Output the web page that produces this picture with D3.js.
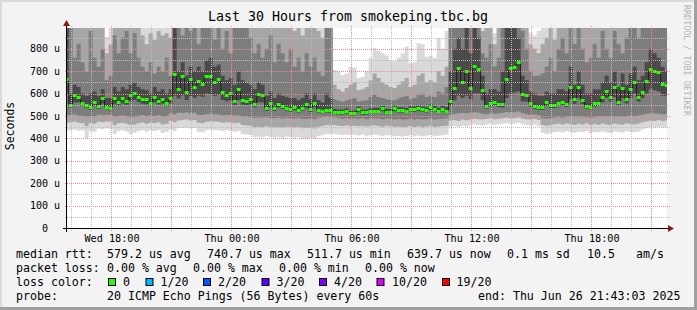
<!DOCTYPE html>
<html>
<head>
<meta charset="utf-8">
<script src="https://cdn.jsdelivr.net/npm/d3@7"></script>
<style>
    body { margin: 0; background: #f3f3f3; }
    svg { display: block; }
    text { font-family: "DejaVu Sans Mono", monospace; fill: #000; }
</style>
</head>
<body>
<svg id="chart" width="697" height="310"></svg>
<script>

// ========== DATA (microseconds, one value per 12 minute column) ==========

const median = [
    665, 549, 594, 586, 559, 549, 539, 564, 545, 579,
    542, 534, 579, 564, 579, 568, 594, 601, 586, 574,
    574, 559, 586, 568, 577, 559, 579, 688, 619, 679,
    609, 664, 631, 655, 643, 680, 680, 652, 667, 609,
    595, 605, 568, 619, 571, 568, 574, 554, 597, 592,
    534, 559, 534, 554, 545, 537, 530, 539, 527, 537,
    552, 530, 559, 527, 522, 527, 527, 519, 516, 516,
    522, 512, 512, 530, 516, 516, 524, 524, 524, 534,
    519, 519, 534, 527, 527, 524, 533, 530, 534, 530,
    527, 539, 533, 524, 533, 524, 568, 624, 713, 653,
    701, 624, 723, 710, 616, 545, 559, 564, 554, 552,
    665, 716, 720, 741, 598, 595, 557, 545, 539, 539,
    562, 550, 550, 559, 562, 554, 631, 576, 628, 571,
    545, 542, 557, 559, 583, 612, 586, 628, 562, 624,
    574, 619, 653, 583, 609, 658, 710, 700, 696, 643,
    640
];

// smoke: sorted ping ranks, lowest (ping 1) .. highest (ping 20); 950 = above the graph
const ping1 = [
    437, 437, 440, 435, 437, 402, 432, 430, 443, 441,
    445, 443, 420, 432, 436, 430, 420, 425, 433, 437,
    430, 436, 432, 438, 425, 430, 440, 433, 445, 446,
    447, 444, 446, 430, 428, 436, 440, 438, 437, 432,
    436, 434, 430, 433, 420, 418, 415, 405, 407, 405,
    410, 405, 404, 406, 402, 408, 405, 403, 406, 397,
    398, 402, 396, 410, 415, 420, 418, 421, 416, 415,
    418, 414, 416, 413, 417, 412, 415, 418, 414, 411,
    416, 413, 410, 412, 408, 411, 414, 410, 413, 409,
    412, 415, 410, 412, 414, 416, 452, 455, 450, 456,
    453, 458, 462, 460, 458, 462, 465, 460, 463, 466,
    468, 464, 466, 470, 463, 460, 458, 462, 455, 425,
    420, 423, 428, 430, 426, 432, 428, 425, 430, 427,
    433, 424, 429, 426, 431, 427, 424, 430, 428, 426,
    432, 429, 427, 431, 440, 445, 450, 448, 452, 447,
    449
];
const ping3 = [
    470, 472, 475, 470, 468, 455, 468, 465, 474, 472,
    476, 475, 460, 468, 470, 466, 460, 462, 468, 471,
    466, 470, 468, 472, 462, 466, 478, 472, 480, 482,
    484, 480, 482, 470, 468, 474, 476, 475, 474, 470,
    472, 471, 468, 470, 460, 458, 456, 450, 452, 450,
    454, 450, 449, 451, 448, 452, 450, 449, 451, 445,
    446, 448, 444, 452, 455, 460, 458, 460, 457, 455,
    458, 455, 456, 454, 457, 453, 456, 458, 455, 452,
    456, 454, 451, 453, 450, 452, 455, 451, 454, 450,
    453, 456, 451, 453, 455, 457, 480, 482, 478, 484,
    481, 485, 488, 486, 484, 487, 490, 486, 488, 490,
    492, 489, 490, 493, 488, 486, 484, 487, 482, 460,
    456, 459, 463, 465, 462, 467, 463, 460, 465, 462,
    468, 460, 464, 461, 466, 462, 460, 465, 463, 461,
    467, 464, 462, 466, 472, 476, 480, 478, 482, 478,
    480
];
const ping6 = [
    505, 503, 508, 502, 500, 494, 500, 498, 506, 503,
    505, 506, 496, 500, 503, 499, 495, 497, 501, 504,
    499, 503, 500, 505, 497, 500, 512, 508, 515, 514,
    516, 512, 515, 505, 504, 508, 510, 508, 507, 503,
    505, 504, 502, 503, 498, 497, 495, 492, 493, 492,
    494, 491, 490, 492, 489, 492, 490, 489, 491, 487,
    488, 489, 486, 492, 494, 497, 495, 493, 491, 488,
    490, 487, 489, 487, 490, 486, 489, 490, 488, 486,
    489, 487, 485, 487, 484, 486, 488, 485, 487, 484,
    486, 489, 485, 487, 488, 490, 505, 510, 512, 514,
    512, 515, 517, 515, 510, 508, 512, 510, 511, 515,
    518, 516, 517, 520, 512, 508, 505, 507, 503, 490,
    488, 490, 493, 494, 492, 497, 500, 496, 498, 494,
    495, 492, 495, 497, 499, 497, 500, 496, 499, 496,
    500, 502, 499, 502, 506, 510, 512, 511, 510, 508,
    508
];
const ping9 = [
    600, 538, 560, 562, 546, 538, 528, 548, 533, 556,
    530, 523, 552, 546, 556, 550, 566, 572, 562, 555,
    553, 545, 560, 551, 556, 545, 556, 590, 578, 592,
    572, 588, 582, 590, 586, 600, 598, 590, 595, 572,
    566, 570, 549, 572, 550, 548, 552, 540, 562, 560,
    522, 540, 522, 538, 532, 525, 519, 526, 516, 524,
    536, 518, 540, 516, 512, 516, 515, 509, 507, 507,
    511, 503, 503, 518, 506, 506, 513, 513, 513, 522,
    509, 509, 522, 516, 516, 513, 521, 519, 522, 519,
    516, 527, 521, 513, 521, 513, 545, 570, 590, 580,
    590, 575, 600, 600, 570, 532, 543, 548, 540, 538,
    580, 600, 605, 610, 565, 565, 542, 532, 527, 527,
    545, 536, 536, 545, 548, 540, 575, 555, 580, 552,
    532, 530, 542, 545, 562, 580, 565, 585, 548, 580,
    556, 580, 600, 565, 580, 600, 620, 615, 610, 590,
    590
];
const ping12 = [
    950, 600, 640, 630, 600, 590, 600, 610, 590, 620,
    580, 580, 630, 610, 630, 620, 640, 650, 630, 620,
    615, 600, 630, 610, 620, 600, 620, 950, 700, 740,
    680, 720, 700, 720, 700, 750, 760, 720, 730, 680,
    660, 670, 640, 700, 660, 650, 640, 620, 650, 640,
    590, 610, 580, 600, 590, 585, 580, 580, 570, 580,
    600, 575, 600, 570, 560, 600, 580, 531, 528, 528,
    534, 524, 525, 542, 528, 528, 536, 536, 536, 546,
    531, 531, 546, 539, 539, 536, 545, 542, 546, 542,
    539, 551, 545, 536, 545, 540, 700, 800, 850, 800,
    950, 780, 950, 850, 680, 600, 620, 620, 610, 700,
    950, 950, 950, 850, 680, 660, 610, 600, 590, 590,
    610, 600, 600, 620, 620, 610, 720, 640, 700, 640,
    600, 600, 620, 620, 650, 680, 650, 700, 630, 690,
    640, 690, 720, 660, 680, 740, 800, 780, 760, 720,
    700
];
const ping15 = [
    950, 950, 760, 820, 740, 700, 880, 760, 720, 800,
    660, 680, 860, 780, 850, 880, 780, 870, 760, 720,
    700, 740, 690, 720, 700, 760, 680, 950, 950, 860,
    950, 880, 950, 820, 950, 900, 950, 840, 950, 800,
    880, 780, 950, 950, 950, 950, 850, 780, 820, 760,
    800, 860, 740, 820, 780, 740, 800, 720, 760, 700,
    780, 720, 760, 700, 680, 950, 900, 575, 568, 565,
    570, 575, 580, 565, 568, 570, 585, 595, 585, 580,
    575, 572, 570, 578, 585, 590, 575, 580, 595, 600,
    585, 590, 585, 610, 600, 630, 950, 950, 950, 950,
    950, 950, 950, 950, 780, 760, 820, 720, 760, 950,
    950, 950, 950, 950, 880, 800, 700, 680, 680, 690,
    720, 760, 700, 800, 850, 780, 950, 820, 950, 800,
    740, 760, 820, 760, 880, 800, 760, 880, 820, 780,
    850, 950, 950, 850, 950, 950, 950, 950, 950, 950,
    950
];
const ping18 = [
    950, 950, 950, 950, 950, 950, 950, 950, 900, 950,
    780, 820, 950, 950, 950, 950, 950, 950, 950, 860,
    820, 870, 840, 880, 860, 870, 850, 950, 950, 950,
    950, 950, 950, 950, 950, 950, 950, 950, 950, 950,
    950, 950, 950, 950, 950, 950, 950, 950, 950, 950,
    950, 950, 950, 950, 900, 950, 950, 880, 950, 860,
    950, 900, 950, 880, 850, 950, 950, 640, 620, 610,
    625, 640, 650, 615, 620, 630, 660, 690, 670, 650,
    640, 630, 625, 640, 655, 670, 630, 640, 680, 690,
    650, 660, 650, 700, 680, 720, 950, 950, 950, 950,
    950, 950, 950, 950, 880, 950, 950, 820, 900, 950,
    950, 950, 950, 950, 950, 950, 820, 800, 780, 820,
    850, 950, 840, 950, 950, 950, 950, 950, 950, 950,
    950, 950, 950, 950, 950, 950, 950, 950, 950, 950,
    950, 950, 950, 950, 950, 950, 950, 950, 950, 950,
    950
];
const ping20 = [
    950, 950, 950, 950, 950, 950, 950, 950, 950, 950,
    853, 950, 950, 950, 950, 950, 950, 950, 950, 950,
    950, 950, 950, 950, 950, 950, 950, 950, 950, 950,
    950, 950, 950, 950, 950, 950, 950, 950, 950, 950,
    950, 950, 950, 950, 950, 950, 950, 950, 950, 950,
    950, 950, 950, 950, 950, 950, 950, 950, 950, 950,
    950, 950, 950, 950, 950, 950, 950, 705, 700, 683,
    690, 720, 715, 670, 675, 700, 760, 803, 790, 780,
    770, 750, 745, 760, 780, 810, 736, 740, 825, 820,
    765, 770, 760, 850, 800, 880, 950, 950, 950, 950,
    950, 950, 950, 950, 950, 950, 950, 870, 950, 950,
    950, 950, 950, 950, 950, 950, 870, 860, 880, 950,
    950, 950, 900, 950, 950, 950, 950, 950, 950, 950,
    950, 950, 950, 950, 950, 950, 950, 950, 950, 950,
    950, 950, 950, 950, 950, 950, 950, 950, 950, 950,
    950
];

const yTicks = [0, 100, 200, 300, 400, 500, 600, 700, 800];
const yTickLabels = ["0", "100 u", "200 u", "300 u", "400 u", "500 u", "600 u", "700 u", "800 u"];
const xLabelTimes = ["2025-06-25T18:00:00Z", "2025-06-26T00:00:00Z", "2025-06-26T06:00:00Z",
    "2025-06-26T12:00:00Z", "2025-06-26T18:00:00Z"];

const lossLabels = ["0", "1/20", "2/20", "3/20", "4/20", "10/20", "19/20"];
const lossColors = ["#26ff00", "#00b8ff", "#0059ff", "#5e00ff", "#7e00ff", "#dd00ff", "#ff0000"];

const rttItems = ["579.2 us avg", "740.7 us max", "511.7 us min", "639.7 us now", "0.1 ms sd", "10.5", "am/s"];
const lossItems = ["0.00 % avg", "0.00 % max", "0.00 % min", "0.00 % now"];

const title = "Last 30 Hours from smokeping.tbc.bg";
const probeText = "20 ICMP Echo Pings (56 Bytes) every 60s";
const endText = "end: Thu Jun 26 21:43:03 2025";


// ========== MAIN CODE ==========

const W = 697, H = 310;
const plot = { left: 67, right: 667, top: 28, bottom: 228 };
const yMax = 893;

const startTime = new Date(Date.UTC(2025, 5, 25, 15, 43, 3));
const endTime = new Date(Date.UTC(2025, 5, 26, 21, 43, 3));
const firstCol = Date.UTC(2025, 5, 25, 15, 36, 0);
const stepMs = 12 * 60 * 1000;

const x = d3.scaleUtc().domain([startTime, endTime]).range([plot.left, plot.right]);
const y = d3.scaleLinear().domain([0, yMax]).range([plot.bottom, plot.top]);

const svg = d3.select("#chart");

// background + frame
svg.append("rect").attr("width", W).attr("height", H).attr("fill", "#f3f3f3");
svg.append("rect").attr("x", 0).attr("y", 0).attr("width", W).attr("height", 2).attr("fill", "#dadada");
svg.append("rect").attr("x", 0).attr("y", 0).attr("width", 2).attr("height", H).attr("fill", "#dadada");
svg.append("rect").attr("x", W - 3).attr("y", 0).attr("width", 3).attr("height", H).attr("fill", "#a0a0a0");
svg.append("rect").attr("x", 0).attr("y", H - 3).attr("width", W).attr("height", 3).attr("fill", "#a0a0a0");

svg.append("rect")
    .attr("x", plot.left).attr("y", plot.top)
    .attr("width", plot.right - plot.left).attr("height", plot.bottom - plot.top)
    .attr("fill", "#fff");

svg.append("defs").append("clipPath").attr("id", "clip")
    .append("rect")
    .attr("x", plot.left).attr("y", plot.top)
    .attr("width", plot.right - plot.left).attr("height", plot.bottom - plot.top);

// columns, plus one closing point for the step curves
const cols = median.map((m, i) => ({ t: new Date(firstCol + i * stepMs), i: i }));
cols.push({ t: new Date(firstCol + median.length * stepMs), i: median.length - 1 });

const g = svg.append("g").attr("clip-path", "url(#clip)");

// smoke, outer band first
const bands = [
    [ping1, ping20, "#d9d9d9"],
    [ping3, ping18, "#a6a6a6"],
    [ping6, ping15, "#7d7d7d"],
    [ping9, ping12, "#4a4a4a"]
];
bands.forEach(b => {
    const area = d3.area()
        .curve(d3.curveStepAfter)
        .x(d => x(d.t))
        .y0(d => y(b[0][d.i]))
        .y1(d => y(b[1][d.i]));
    g.append("path").attr("d", area(cols)).attr("fill", b[2]);
});

// grid (rrdtool puts it over the areas)
const grid = svg.append("g");
d3.range(50, yMax, 50).forEach(v => {
    const py = Math.round(y(v)) + 0.5;
    grid.append("line")
        .attr("x1", plot.left - 2).attr("x2", plot.right + 3)
        .attr("y1", py).attr("y2", py)
        .attr("stroke", v % 100 === 0 ? "#f08c8c" : "#bdbdbd")
        .attr("stroke-dasharray", "1,1");
});
d3.utcHour.range(startTime, endTime).forEach(t => {
    const px = Math.floor(x(t)) - 0.5;
    const major = t.getUTCHours() % 3 === 0;
    grid.append("line")
        .attr("x1", px).attr("x2", px)
        .attr("y1", plot.top - 2).attr("y2", plot.bottom + 3)
        .attr("stroke", major ? "#f08c8c" : "#bdbdbd")
        .attr("stroke-dasharray", "1,1");
});

// median line + loss coloured markers
const line = d3.line()
    .curve(d3.curveStepAfter)
    .x(d => x(d.t))
    .y(d => Math.round(y(median[d.i])) + 0.5);
g.append("path").attr("d", line(cols))
    .attr("fill", "none").attr("stroke", "#202020").attr("stroke-width", 1);

g.selectAll("rect.med").data(cols.slice(0, median.length)).enter()
    .append("rect")
    .attr("class", "med")
    .attr("x", d => x(d.t))
    .attr("width", d => x(new Date(+d.t + stepMs)) - x(d.t))
    .attr("y", d => Math.round(y(median[d.i])) - 1)
    .attr("height", 3)
    .attr("fill", lossColors[0]);

// axes
svg.append("line")
    .attr("x1", plot.left - 4).attr("x2", plot.right + 2)
    .attr("y1", plot.bottom + 0.5).attr("y2", plot.bottom + 0.5)
    .attr("stroke", "#000");
svg.append("line")
    .attr("x1", plot.left - 0.5).attr("x2", plot.left - 0.5)
    .attr("y1", plot.bottom + 4).attr("y2", plot.top - 2)
    .attr("stroke", "#000");
svg.append("path")
    .attr("d", `M${plot.right + 1},${plot.bottom - 3}L${plot.right + 7},${plot.bottom + 0.5}L${plot.right + 1},${plot.bottom + 4}Z`)
    .attr("fill", "#8b1a1a");
svg.append("path")
    .attr("d", `M${plot.left - 4},${plot.top - 2}L${plot.left - 0.5},${plot.top - 8}L${plot.left + 3},${plot.top - 2}Z`)
    .attr("fill", "#8b1a1a");

// y labels
svg.selectAll("text.ylab").data(yTicks).enter()
    .append("text")
    .attr("class", "ylab")
    .attr("x", (d, i) => i === 0 ? 48 : 60)
    .attr("y", d => y(d) + 3.5)
    .attr("text-anchor", "end")
    .style("font-size", "10px")
    .text((d, i) => yTickLabels[i]);

// x labels
const fmt = d3.utcFormat("%a %H:%M");
svg.selectAll("text.xlab").data(xLabelTimes.map(s => new Date(s))).enter()
    .append("text")
    .attr("class", "xlab")
    .attr("x", d => Math.floor(x(d)))
    .attr("y", 242)
    .attr("text-anchor", "middle")
    .style("font-size", "10.2px")
    .text(d => fmt(d));

// title, axis title, watermark
svg.append("text")
    .attr("x", 348).attr("y", 21)
    .attr("text-anchor", "middle")
    .style("font-size", "13.3px")
    .text(title);

svg.append("text")
    .attr("transform", "translate(14,126) rotate(-90)")
    .attr("text-anchor", "middle")
    .style("font-size", "11.5px")
    .text("Seconds");

svg.append("text")
    .attr("transform", "translate(684,5) rotate(90)")
    .style("font-size", "8.4px")
    .style("fill", "#b4b4b4")
    .text("RRDTOOL / TOBI OETIKER");

// legend
const lg = svg.append("g").style("font-size", "11.6px");
const row = [258, 272, 286, 300];

lg.append("text").attr("x", 16).attr("y", row[0]).text("median rtt:");
const rttX = [107, 207, 307, 407, 507, 587, 636];
rttItems.forEach((s, i) => lg.append("text").attr("x", rttX[i]).attr("y", row[0]).text(s));

lg.append("text").attr("x", 16).attr("y", row[1]).text("packet loss:");
const lossX = [107, 193, 279, 365];
lossItems.forEach((s, i) => lg.append("text").attr("x", lossX[i]).attr("y", row[1]).text(s));

lg.append("text").attr("x", 16).attr("y", row[2]).text("loss color:");
const boxX = [108.5, 146, 203.5, 262, 319.5, 377, 442.5];
const boxLabelX = [123, 160.5, 218, 276.5, 334, 392, 456.5];
lossLabels.forEach((s, i) => {
    lg.append("rect")
        .attr("x", boxX[i]).attr("y", 278.5)
        .attr("width", 7).attr("height", 7)
        .attr("fill", lossColors[i]).attr("stroke", "#000");
    lg.append("text").attr("x", boxLabelX[i]).attr("y", row[2]).text(s);
});

lg.append("text").attr("x", 16).attr("y", row[3]).text("probe:");
lg.append("text").attr("x", 107).attr("y", row[3]).text(probeText);
lg.append("text").attr("x", 478).attr("y", row[3]).text(endText);

</script>
</body>
</html>
